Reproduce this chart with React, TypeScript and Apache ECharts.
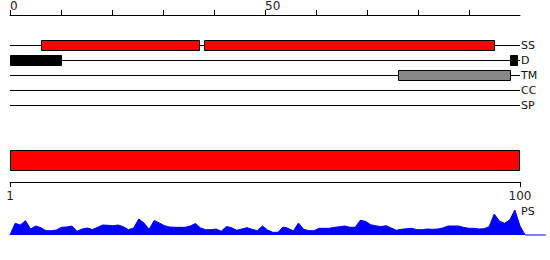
import React, { useEffect, useRef } from "react";
import * as echarts from "echarts";

// Track rows (top panel)
const trackNames = ["SS", "D", "TM", "CC", "SP"];
const trackSlots = [2, 3, 4, 5, 6];

// Features on tracks (sequence positions 0..100)
const featTrack = ["SS", "SS", "D", "D", "TM"];
const featStart = [6, 38, 0, 98, 76];
const featEnd = [37, 95, 10, 99.5, 98];

// Top axis ticks / labels
const topTickValues = [0, 10, 20, 30, 40, 50, 60, 70, 80, 90];
const topLabelValues = [0, 50];

// Middle bar
const barRange = [1, 100];
const bottomLabelValues = [1, 100];

// PS profile (residues 1..100, then tail)
const psValues = [
  0, 11.7, 10, 14.3, 6, 9, 7.3, 4.3, 4.3, 5,
  7.7, 8, 9, 3.7, 6, 7, 5.5, 7.7, 10, 9.7,
  9.3, 10, 8.3, 5.3, 7, 16, 12, 5.7, 14.5, 12,
  9.3, 8, 7.7, 7.7, 7.7, 9, 11.5, 7, 5.3, 5.3,
  6, 3.7, 8.5, 7.3, 4.7, 6, 7.3, 5.7, 4.3, 9,
  5, 2.7, 2.7, 8, 6.7, 4, 12, 5.7, 4.3, 4.3,
  6.7, 6.7, 6.7, 7.7, 8.3, 9, 7.7, 7.7, 14.7, 13.7,
  10.3, 9.3, 8.3, 9.3, 7, 4.7, 5.7, 6.3, 6.7, 5.3,
  5.3, 6, 5.7, 6, 7, 9, 9, 9, 7.7, 6.7,
  6.7, 6, 6.3, 8.3, 21, 14, 11.7, 15, 25, 9,
];
const psTailPositions = [101, 105];
const psTailValues = [0, 0];

const FONT = "DejaVu Sans";
const featStyle: Record<string, any> = {
  SS: { fill: "#ff0000", stroke: "#000", lineWidth: 1 },
  D: { fill: "#000000", stroke: "#000", lineWidth: 1 },
  TM: { fill: "#888888", stroke: "#000", lineWidth: 1 },
};

export default function App() {
  const ref = useRef<HTMLDivElement>(null);
  useEffect(() => {
    document.body.style.margin = "0";
    if (!ref.current) return;
    const chart = echarts.init(ref.current, undefined, { renderer: "svg" });

    const psData: number[][] = psValues.map((v, i) => [i + 1, v]);
    psTailPositions.forEach((p, i) => psData.push([p, psTailValues[i]]));

    const slotOf = (name: string) => trackSlots[trackNames.indexOf(name)];

    chart.setOption({
      animation: false,
      grid: [
        { left: 10, right: 30, top: 15, height: 105 },
        { left: 10, right: 30, top: 150, height: 32 },
        { left: 10, right: 4.24, top: 210, height: 25 },
      ],
      xAxis: [
        {
          gridIndex: 0,
          type: "value",
          position: "top",
          min: 0,
          max: 100,
          splitLine: { show: false },
          axisLine: { show: true, lineStyle: { color: "#000", width: 1 } },
          axisTick: { show: true, length: 5, customValues: topTickValues, lineStyle: { color: "#000" } },
          axisLabel: {
            customValues: topLabelValues,
            align: "left",
            margin: 3,
            fontSize: 12,
            fontFamily: FONT,
            color: "#222",
          },
        },
        {
          gridIndex: 1,
          type: "value",
          position: "bottom",
          min: 1,
          max: 100,
          splitLine: { show: false },
          axisLine: { show: true, onZero: false, lineStyle: { color: "#000", width: 1 } },
          axisTick: { show: true, length: 5, customValues: bottomLabelValues, lineStyle: { color: "#000" } },
          axisLabel: {
            customValues: bottomLabelValues,
            margin: 8,
            fontSize: 12,
            fontFamily: FONT,
            color: "#222",
          },
        },
        {
          gridIndex: 2,
          type: "value",
          min: 1,
          max: 105,
          show: false,
        },
      ],
      yAxis: [
        {
          gridIndex: 0,
          type: "value",
          position: "right",
          inverse: true,
          min: 0,
          max: 7,
          splitLine: { show: false },
          axisLine: { show: false },
          axisTick: { show: false },
          axisLabel: {
            customValues: trackSlots,
            margin: 1,
            fontSize: 11,
            fontFamily: FONT,
            color: "#111",
            formatter: (v: number) => trackNames[trackSlots.indexOf(v)] ?? "",
          },
        },
        { gridIndex: 1, type: "value", min: 0, max: 1, show: false },
        { gridIndex: 2, type: "value", min: 0, max: 25, show: false },
      ],
      graphic: [
        {
          type: "text",
          left: 521,
          top: 206,
          style: { text: "PS", fontSize: 11, fontFamily: FONT, fill: "#111" },
        },
      ],
      series: [
        {
          type: "custom",
          xAxisIndex: 0,
          yAxisIndex: 0,
          clip: false,
          data: trackSlots.map((s) => [0, 100, s]),
          renderItem: (params: any, api: any) => {
            const p0 = api.coord([api.value(0), api.value(2)]);
            const p1 = api.coord([api.value(1), api.value(2)]);
            const y = Math.round(p0[1]) + 0.5;
            return {
              type: "line",
              shape: { x1: p0[0], y1: y, x2: p1[0], y2: y },
              style: { stroke: "#000", lineWidth: 1 },
            };
          },
        },
        {
          type: "custom",
          xAxisIndex: 0,
          yAxisIndex: 0,
          clip: false,
          data: featTrack.map((t, i) => [featStart[i], featEnd[i], slotOf(t)]),
          renderItem: (params: any, api: any) => {
            const p0 = api.coord([api.value(0), api.value(2)]);
            const p1 = api.coord([api.value(1), api.value(2)]);
            const x0 = Math.round(p0[0]) + 0.5;
            const x1 = Math.round(p1[0]) + 0.5;
            const y = Math.round(p0[1]) - 4.5;
            return {
              type: "rect",
              shape: { x: x0, y, width: x1 - x0, height: 10 },
              style: featStyle[featTrack[params.dataIndex]],
            };
          },
        },
        {
          type: "custom",
          xAxisIndex: 1,
          yAxisIndex: 1,
          clip: false,
          data: [[barRange[0], barRange[1]]],
          renderItem: (params: any, api: any) => {
            const p0 = api.coord([api.value(0), 1]);
            const p1 = api.coord([api.value(1), 1]);
            const x0 = Math.round(p0[0]) + 0.5;
            const x1 = Math.round(p1[0]) - 0.5;
            return {
              type: "rect",
              shape: { x: x0, y: Math.round(p0[1]) + 0.5, width: x1 - x0, height: 20 },
              style: { fill: "#ff0000", stroke: "#000", lineWidth: 1 },
            };
          },
        },
        {
          type: "line",
          xAxisIndex: 2,
          yAxisIndex: 2,
          data: psData,
          showSymbol: false,
          clip: false,
          lineStyle: { color: "#0000ff", width: 1 },
          areaStyle: { color: "#0000ff", opacity: 1 },
          itemStyle: { color: "#0000ff" },
        },
      ],
    });
    return () => chart.dispose();
  }, []);
  return <div ref={ref} style={{ width: 550, height: 260 }} />;
}
